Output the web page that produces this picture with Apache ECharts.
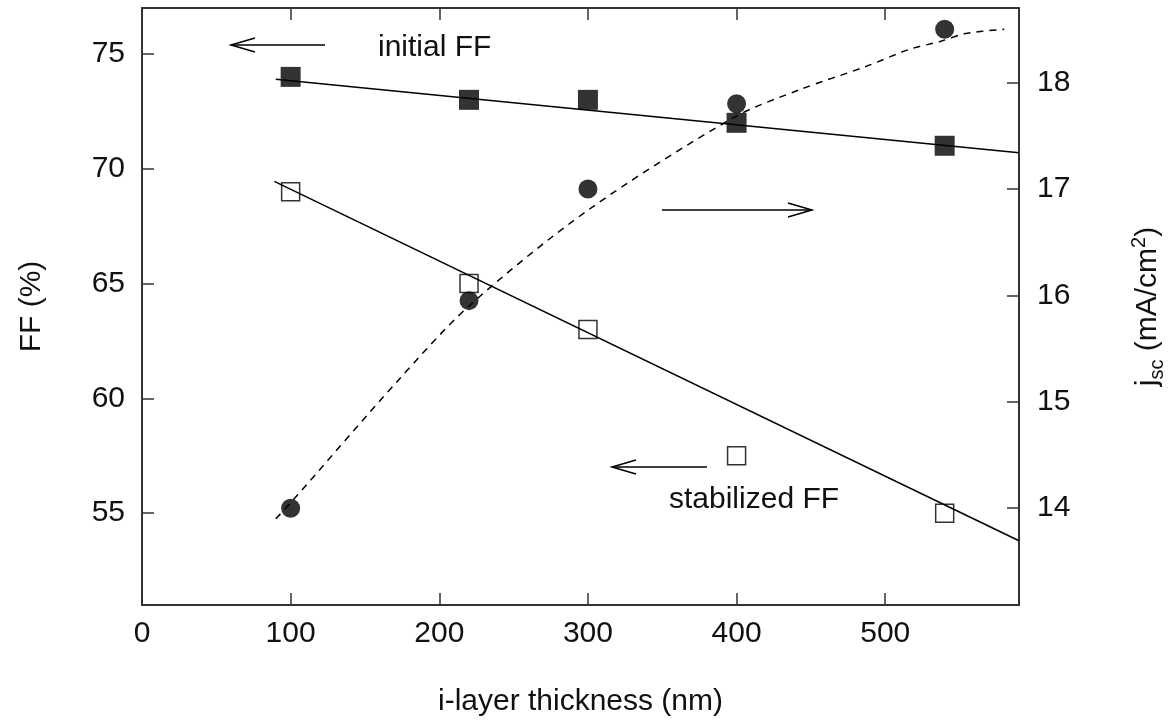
<!DOCTYPE html>
<html>
<head>
<meta charset="utf-8">
<script src="https://cdn.jsdelivr.net/npm/echarts@6/dist/echarts.min.js"></script>
<style>
  html, body { margin: 0; padding: 0; background: #fff; }
  #chart { width: 1175px; height: 726px; }
</style>
</head>
<body>
<div id="chart"></div>
<script>
// i-layer thickness vs FF / jsc
const thickness = [100, 220, 300, 400, 540];
const initialFF = [74, 73, 73, 72, 71];
const stabilizedFF = [69, 65, 63, 57.5, 55];
const jsc = [14.0, 15.95, 17.0, 17.8, 18.5];

// fitted curves as drawn in the figure
const initialFitX = [90, 590];
const initialFitY = [73.9, 70.7];
const stabilizedFitX = [89, 590];
const stabilizedFitY = [69.45, 53.8];
const jscFitX = [90, 100, 171, 220, 300, 398, 442, 487, 516, 538, 554, 580];
const jscFitY = [13.9, 14.05, 15.18, 15.9, 16.8, 17.67, 17.93, 18.15, 18.31, 18.39, 18.46, 18.5];

const xTicks = [0, 100, 200, 300, 400, 500];
const ffTicks = [55, 60, 65, 70, 75];
const jscTicks = [14, 15, 16, 17, 18];

const FONT = "'Liberation Sans', Arial, sans-serif";
const INK = "#111";
const AXIS = "#333";

const pairs = (xs, ys) => xs.map((x, i) => [x, ys[i]]);

const tickStyle = (values) => ({
  show: true,
  inside: true,
  length: 12,
  customValues: values,
  lineStyle: { color: AXIS, width: 1.5 },
});
const labelStyle = (values, margin) => ({
  show: true,
  customValues: values,
  color: INK,
  fontFamily: FONT,
  fontSize: 30,
  margin: margin,
});
const axisLine = { show: true, onZero: false, lineStyle: { color: AXIS, width: 2 } };

const chart = echarts.init(document.getElementById("chart"), null, { renderer: "canvas" });

chart.setOption({
  backgroundColor: "#fff",
  animation: false,
  grid: { left: 142, right: 155, top: 8, bottom: 121 },
  xAxis: [
    {
      type: "value",
      min: 0,
      max: 590,
      position: "bottom",
      name: "i-layer thickness (nm)",
      nameLocation: "middle",
      nameGap: 82,
      nameTextStyle: { color: INK, fontFamily: FONT, fontSize: 30 },
      axisLine: axisLine,
      axisTick: tickStyle(xTicks),
      axisLabel: labelStyle(xTicks, 14),
      splitLine: { show: false },
    },
    {
      type: "value",
      min: 0,
      max: 590,
      position: "top",
      axisLine: axisLine,
      axisTick: tickStyle(xTicks.slice(1)),
      axisLabel: { show: false },
      splitLine: { show: false },
    },
  ],
  yAxis: [
    {
      type: "value",
      min: 51,
      max: 77,
      position: "left",
      name: "FF (%)",
      nameLocation: "middle",
      nameRotate: 90,
      nameGap: 95,
      nameTextStyle: { color: INK, fontFamily: FONT, fontSize: 30 },
      axisLine: axisLine,
      axisTick: tickStyle(ffTicks),
      axisLabel: labelStyle(ffTicks, 17),
      splitLine: { show: false },
    },
    {
      type: "value",
      min: 13.09,
      max: 18.7,
      position: "right",
      name: "{a|j}{b|sc}{a| (mA/cm}{c|2}{a|)}",
      nameLocation: "middle",
      nameRotate: 90,
      nameGap: 110,
      nameTextStyle: {
        color: INK,
        fontFamily: FONT,
        fontSize: 30,
        rich: {
          a: { fontFamily: FONT, fontSize: 30, color: INK, lineHeight: 38 },
          b: { fontFamily: FONT, fontSize: 20, color: INK, lineHeight: 20, verticalAlign: "bottom" },
          c: { fontFamily: FONT, fontSize: 20, color: INK, lineHeight: 20, verticalAlign: "top" },
        },
      },
      axisLine: axisLine,
      axisTick: tickStyle(jscTicks),
      axisLabel: labelStyle(jscTicks, 18),
      splitLine: { show: false },
    },
  ],
  series: [
    {
      name: "initial FF fit",
      type: "line",
      yAxisIndex: 0,
      data: pairs(initialFitX, initialFitY),
      showSymbol: false,
      lineStyle: { color: "#000", width: 1.5 },
      silent: true,
    },
    {
      name: "stabilized FF fit",
      type: "line",
      yAxisIndex: 0,
      data: pairs(stabilizedFitX, stabilizedFitY),
      showSymbol: false,
      lineStyle: { color: "#000", width: 1.5 },
      silent: true,
    },
    {
      name: "jsc fit",
      type: "line",
      yAxisIndex: 1,
      data: pairs(jscFitX, jscFitY),
      showSymbol: false,
      smooth: 0.3,
      lineStyle: { color: "#000", width: 1.5, type: [7, 6] },
      silent: true,
    },
    {
      name: "initial FF",
      type: "scatter",
      yAxisIndex: 0,
      symbol: "rect",
      symbolSize: 20,
      data: pairs(thickness, initialFF),
      itemStyle: { color: "#000" },
    },
    {
      name: "stabilized FF",
      type: "scatter",
      yAxisIndex: 0,
      symbol: "rect",
      symbolSize: 18,
      data: pairs(thickness, stabilizedFF),
      itemStyle: { color: "rgba(255,255,255,0)", borderColor: "#000", borderWidth: 1.5 },
    },
    {
      name: "jsc",
      type: "scatter",
      yAxisIndex: 1,
      symbol: "circle",
      symbolSize: 19,
      data: pairs(thickness, jsc),
      itemStyle: { color: "#000" },
    },
  ],
  graphic: [
    // arrow toward the left axis (initial FF)
    { type: "polyline", shape: { points: [[325, 45], [231, 45]] }, style: { stroke: "#000", lineWidth: 1.5, fill: null } },
    { type: "polyline", shape: { points: [[255, 38], [231, 45], [255, 52]] }, style: { stroke: "#000", lineWidth: 1.5, fill: null } },
    { type: "text", left: 378, top: 33, style: { text: "initial FF", fill: INK, font: "30px " + FONT } },
    // arrow toward the right axis (jsc)
    { type: "polyline", shape: { points: [[662, 210], [812, 210]] }, style: { stroke: "#000", lineWidth: 1.5, fill: null } },
    { type: "polyline", shape: { points: [[788, 203], [812, 210], [788, 217]] }, style: { stroke: "#000", lineWidth: 1.5, fill: null } },
    // arrow toward the left axis (stabilized FF)
    { type: "polyline", shape: { points: [[707, 467], [612, 467]] }, style: { stroke: "#000", lineWidth: 1.5, fill: null } },
    { type: "polyline", shape: { points: [[636, 460], [612, 467], [636, 474]] }, style: { stroke: "#000", lineWidth: 1.5, fill: null } },
    { type: "text", left: 669, top: 485, style: { text: "stabilized FF", fill: INK, font: "30px " + FONT } },
  ],
});
</script>
</body>
</html>
